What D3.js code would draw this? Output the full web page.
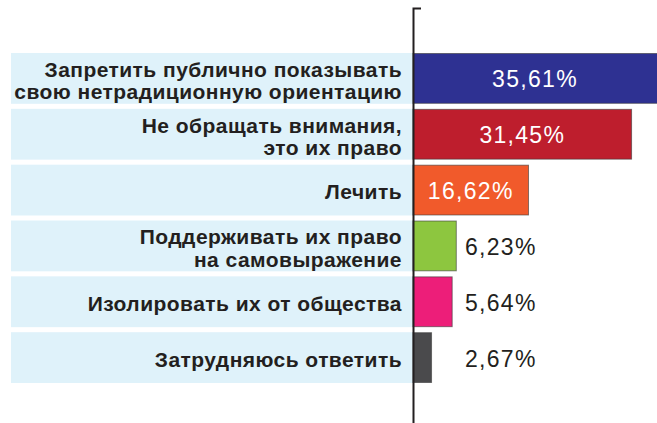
<!DOCTYPE html>
<html>
<head>
<meta charset="utf-8">
<script src="https://cdn.jsdelivr.net/npm/d3@7"></script>
<style>
  body { margin: 0; background: #fff; }
  svg { display: block; }
</style>
</head>
<body>
<svg id="chart"></svg>
<script>
// answers (each line of a label is a separate entry)
const labels = [
  ["Запретить публично показывать", "свою нетрадиционную ориентацию"],
  ["Не обращать внимания,", "это их право"],
  ["Лечить"],
  ["Поддерживать их право", "на самовыражение"],
  ["Изолировать их от общества"],
  ["Затрудняюсь ответить"]
]
const values = [35.61, 31.45, 16.62, 6.23, 5.64, 2.67]
const valueLabels = ["35,61%", "31,45%", "16,62%", "6,23%", "5,64%", "2,67%"]
const colors = ["#2e3192", "#be1e2d", "#f15a2b", "#8dc63f", "#ed1e79", "#4a4a4c"]
const inside = [true, true, true, false, false, false]

const W = 657, H = 423
const axisX = 413

const svg = d3.select("svg#chart")
              .attr("width", W)
              .attr("height", H)

const ids = d3.range(values.length)

const x = d3.scaleLinear()
            .domain([0, 40])
            .range([axisX, axisX + 40 * 6.95])

const y = d3.scaleBand()
            .domain(ids)
            .range([53, 383])
            .paddingInner(0.09)

//light blue label bands
svg.selectAll("rect.band")
   .data(ids)
   .join("rect")
   .attr("class", "band")
   .attr("x", 11)
   .attr("y", i => y(i))
   .attr("width", axisX - 11)
   .attr("height", y.bandwidth())
   .attr("fill", "#dff2fa")

//bars
svg.selectAll("rect.bar")
   .data(ids)
   .join("rect")
   .attr("class", "bar")
   .attr("x", x(0))
   .attr("y", i => y(i) + 0.5)
   .attr("width", i => x(values[i]) - x(0))
   .attr("height", y.bandwidth() - 1)
   .attr("fill", i => colors[i])
   .attr("stroke", "#3a3a3a")
   .attr("stroke-opacity", 0.6)
   .attr("stroke-width", 1)

//category labels, right aligned
const lab = svg.selectAll("text.label")
   .data(ids)
   .join("text")
   .attr("class", "label")
   .attr("text-anchor", "end")
   .attr("font-family", "'Liberation Sans', Arial, sans-serif")
   .attr("font-weight", "bold")
   .attr("font-size", 21)
   .attr("letter-spacing", 0.45)
   .attr("fill", "#231f20")

lab.each(function(i) {
  const lines = labels[i]
  const c = y(i) + y.bandwidth() / 2
  const first = lines.length == 1 ? c + 9 : c - 1.5
  lines.forEach((t, k) => {
    d3.select(this).append("tspan")
      .attr("x", 402)
      .attr("y", first + k * 22.5)
      .text(t)
  })
})

//value labels
svg.selectAll("text.value")
   .data(ids)
   .join("text")
   .attr("class", "value")
   .attr("x", i => inside[i] ? (x(0) + Math.min(x(values[i]), W)) / 2 : 465)
   .attr("y", i => y(i) + y.bandwidth() / 2 + 9)
   .attr("text-anchor", i => inside[i] ? "middle" : "start")
   .attr("font-family", "'Liberation Sans', Arial, sans-serif")
   .attr("font-size", 23)
   .attr("letter-spacing", 1.3)
   .attr("fill", i => inside[i] ? "#fff" : "#231f20")
   .text(i => valueLabels[i])

//vertical axis line with small tick at the top
const yAxisScale = d3.scaleLinear().range([8, 440])
svg.append("g")
   .attr("transform", `translate(${axisX},0)`)
   .call(d3.axisRight(yAxisScale).tickValues([]).tickSizeOuter(8))
   .call(g => g.select(".domain").attr("stroke", "#231f20").attr("stroke-width", 2))
</script>
</body>
</html>
